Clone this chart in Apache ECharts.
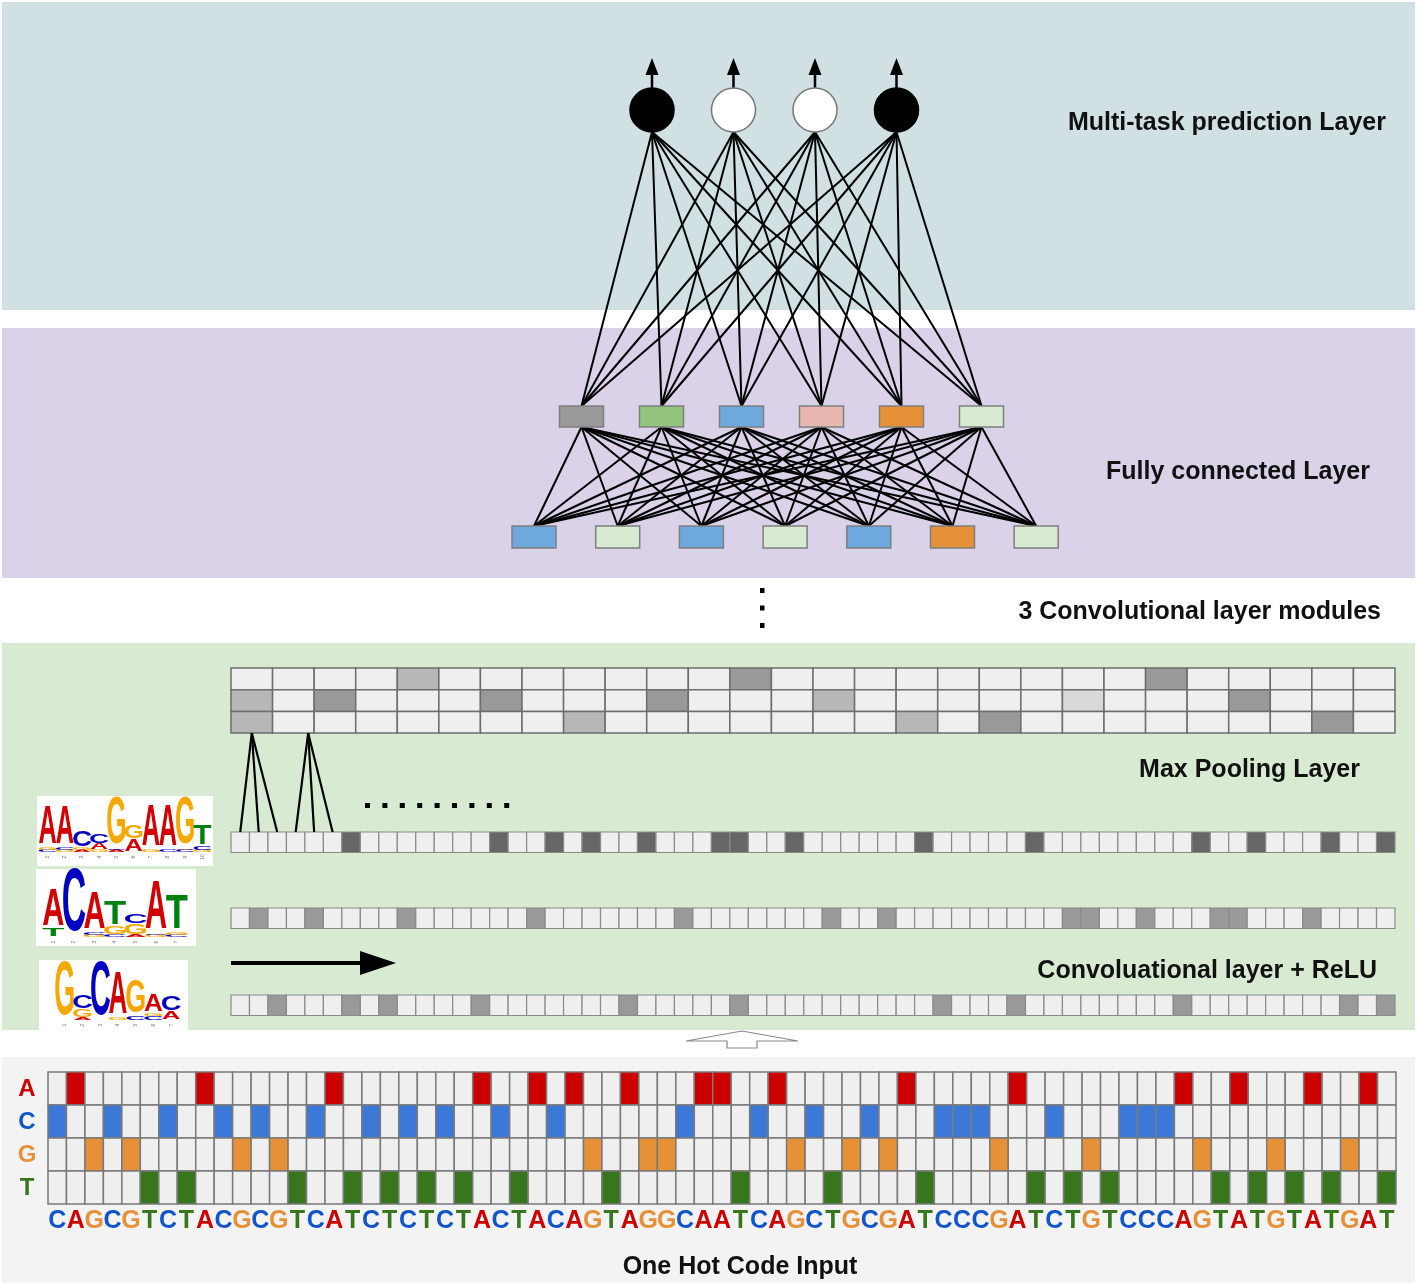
<!DOCTYPE html>
<html><head><meta charset="utf-8">
<script src="https://cdn.jsdelivr.net/npm/echarts@6/dist/echarts.min.js"></script>
<style>html,body{margin:0;padding:0;background:#fff}#c{width:1418px;height:1285px}</style>
</head><body><div id="c"></div>
<script>
// ================= DATA =================
const sequence = "CAGCGTCTACGCGTCATCTCTCTACTACAGTAGGCAATCAGCTGCGATCCCGATCTGTCCCAGTATGTATGAT";
const bases = ['A', 'C', 'G', 'T'];
// max pooling rows: 0 empty, 1 very light, 2 light, 3 dark
const poolRow1 = [0,0,0,0,2,0,0,0,0,0,0,0,3,0,0,0,0,0,0,0,0,0,3,0,0,0,0,0];
const poolRow2 = [2,0,3,0,0,0,3,0,0,0,3,0,0,0,2,0,0,0,0,0,1,0,0,0,3,0,0,0];
const poolRow3 = [2,0,0,0,0,0,0,0,2,0,0,0,0,0,0,0,2,0,3,0,0,0,0,0,0,0,3,0];
// convolution rows: length and active (shaded) cells
const convLength = 63;
const convRow1 = [6,14,17,19,22,26,27,30,37,43,52,55,59,62];
const convRow2 = [1,4,9,16,24,32,35,45,46,49,53,54,58];
const convRow3 = [2,6,8,13,21,27,38,42,51,60,62];
// pooling fan-in: [pool cell, first conv cell, last conv cell]
const poolFans = [[0,0,2],[1,3,5]];
// network nodes
const outputNodes = ['filled','open','open','filled'];
const fcUpper = ['gray','green','blue','pink','orange','pale'];
const fcLower = ['blue','pale','blue','pale','blue','orange','pale'];
// sequence logos (per position: stacked [letter, height] from bottom)
const logo1 = [
  [['C',2],['G',2],['A',39]],
  [['G',2],['C',2],['A',39]],
  [['A',2],['G',2],['C',16]],
  [['G',2],['A',6],['C',9]],
  [['A',2],['C',1],['G',48]],
  [['A',12],['G',13]],
  [['G',2],['A',41]],
  [['C',2],['A',41]],
  [['C',2],['A',1],['G',48]],
  [['G',2],['C',4],['T',20]]
];
const logo2 = [
  [['T',8],['A',37]],
  [['C',64]],
  [['G',2],['C',3],['A',37]],
  [['C',2],['G',8],['T',24]],
  [['A',2],['G',11],['C',9]],
  [['G',2],['C',1],['A',50]],
  [['C',2],['G',3],['T',34]]
];
const logo3 = [
  [['G',55]],
  [['A',2],['G',8],['C',13]],
  [['C',55]],
  [['G',2],['A',42]],
  [['C',4],['G',33]],
  [['C',4],['G',3],['A',17]],
  [['A',8],['C',14]]
];
// text labels
const labelMulti = 'Multi-task prediction Layer';
const labelFC = 'Fully connected Layer';
const labelModules = '3 Convolutional layer modules';
const labelPool = 'Max Pooling Layer';
const labelConv = 'Convoluational layer + ReLU';
const labelInput = 'One Hot Code Input';

// ================= STYLE / LAYOUT =================
const FONT = '"Liberation Sans", Arial, Helvetica, sans-serif';
const baseFill = {A:'#cc0000', C:'#3c78d8', G:'#e69138', T:'#38761d'};
const baseText = {A:'#cc0000', C:'#1155cc', G:'#e69138', T:'#38761d'};
const logoFill = {A:'#d20000', C:'#0000c0', G:'#f7a800', T:'#008010'};
const logoInk = {A:64, C:58, G:62, T:54}; // ink width at 100px bold (slightly reduced so letters fill slot)
const poolFill = ['#efefef','#d9d9d9','#b7b7b7','#999999'];
const nodeFill = {gray:'#999999', green:'#93c47d', blue:'#6fa8dc', pink:'#e6b8af', orange:'#e69138', pale:'#d9ead3'};
const L = {
  bands: [[2,2,1415,310,'#d0e0e3'],[2,328,1415,578,'#d9d2e9'],[2,643,1415,1030,'#d9ead3'],[2,1057,1415,1283,'#f3f3f3']],
  out: {x0:652, dx:81.5, cy:110, r:22},
  fcU: {x0:581.5, dx:80, y0:406, y1:427, w:44},
  fcL: {x0:534, dx:83.7, y0:526, y1:548, w:44},
  pool: {x0:231, x1:1395, y0:668, rh:21.7},
  conv: {x0:231, x1:1395, ys:[832,908,995], h:20.5, fills:['#666666','#999999','#999999']},
  hot: {x0:48, x1:1396, y0:1072, rh:33},
  logos: [
    {box:[37,796,213,866], x0:39, x1:211, base:852},
    {box:[36,869,196,946], x0:43, x1:187, base:937},
    {box:[39,960,188,1030], x0:56, x1:180, base:1020}
  ]
};

// ================= BUILD PRIMITIVES =================
const bg = [], cells = [], wires = [], nodes = [], texts = [];
const R = (x0,y0,x1,y1,fill,stroke,lw)=>({t:'rect',x0,y0,x1,y1,fill,stroke,lw});
const Ln = (a,b,stroke,lw)=>({t:'line',pts:[a,b],stroke,lw});
const T = (x,y,text,font,fill,align,extra)=>Object.assign({t:'text',x,y,text,font,fill,align},extra||{});

L.bands.forEach(b=>bg.push(R(b[0],b[1],b[2],b[3],b[4])));

// one-hot grid
(function(){
  const h=L.hot, n=sequence.length, cw=(h.x1-h.x0)/n;
  bases.forEach((b,r)=>{
    for(let i=0;i<n;i++){
      const on = sequence[i]===b;
      cells.push(R(h.x0+i*cw, h.y0+r*h.rh, h.x0+(i+1)*cw, h.y0+(r+1)*h.rh, on?baseFill[b]:'#efefef', '#7a7a7a', 1.5));
    }
    texts.push(T(27, h.y0+(r+0.5)*h.rh+1, b, 'bold 24px '+FONT, baseText[b], 'center'));
  });
  for(let i=0;i<n;i++){
    texts.push(T(h.x0+(i+0.5)*cw, h.y0+4*h.rh+17, sequence[i], 'bold 25px '+FONT, baseText[sequence[i]], 'center'));
  }
  texts.push(T(740, 1267, labelInput, 'bold 25px '+FONT, '#111', 'center'));
})();

// pooling
(function(){
  const p=L.pool, rows=[poolRow1,poolRow2,poolRow3], cw=(p.x1-p.x0)/rows[0].length;
  rows.forEach((row,r)=>row.forEach((v,i)=>{
    cells.push(R(p.x0+i*cw, p.y0+r*p.rh, p.x0+(i+1)*cw, p.y0+(r+1)*p.rh, poolFill[v], '#6d6d6d', 1.5));
  }));
  texts.push(T(1360, 770, labelPool, 'bold 25px '+FONT, '#111', 'right'));
})();

// conv rows
(function(){
  const c=L.conv, cw=(c.x1-c.x0)/convLength, rows=[convRow1,convRow2,convRow3];
  rows.forEach((act,r)=>{
    for(let i=0;i<convLength;i++){
      const on = act.indexOf(i)>=0;
      cells.push(R(c.x0+i*cw, c.ys[r], c.x0+(i+1)*cw, c.ys[r]+c.h, on?c.fills[r]:'#efefef', '#8a8a8a', 1.2));
    }
  });
  // fan-in lines from pooling to first conv row
  const pw=(L.pool.x1-L.pool.x0)/poolRow1.length, py=L.pool.y0+3*L.pool.rh;
  poolFans.forEach((f,k)=>{
    const midConv = c.x0+((f[1]+f[2])/2+0.5)*cw;
    const ax = k===0 ? L.pool.x0+(f[0]+0.5)*pw : midConv-6;
    for(let i=f[1];i<=f[2];i++) wires.push(Ln([ax,py],[c.x0+(i+0.5)*cw, c.ys[0]], '#000', 2.2));
  });
  // horizontal dots
  for(let i=0;i<9;i++) nodes.push(R(365+i*17.4, 803, 370+i*17.4, 808, '#000'));
  // arrow
  wires.push(Ln([231,963],[362,963],'#000',4));
  nodes.push({t:'poly', pts:[[360,951],[396,963],[360,975]], fill:'#000'});
  texts.push(T(1377, 971, labelConv, 'bold 25px '+FONT, '#111', 'right'));
})();

// logos
L.logos.forEach((lg,k)=>{
  const stacks=[logo1,logo2,logo3][k];
  const b=lg.box;
  cells.push(R(b[0],b[1],b[2],b[3],'#ffffff'));
  const sw=(lg.x1-lg.x0)/stacks.length;
  stacks.forEach((st,i)=>{
    let y=lg.base; const cx=lg.x0+(i+0.5)*sw;
    st.forEach(([ch,h])=>{
      const w=sw-1;
      texts.push(T(cx, y-h/2, ch, 'bold 100px '+FONT, logoFill[ch], 'center', {sx:w/logoInk[ch], sy:h/72}));
      y-=h;
    });
    texts.push(T(cx, lg.base+5, String(i+1), '5px '+FONT, '#777', 'center', {rot:Math.PI/2}));
  });
});

// fully connected layer
(function(){
  const u=L.fcU, l=L.fcL, o=L.out;
  const ux=i=>u.x0+i*u.dx, lx=i=>l.x0+i*l.dx, ox=i=>o.x0+i*o.dx;
  fcUpper.forEach((_,i)=>fcLower.forEach((__,j)=>wires.push(Ln([ux(i),u.y1],[lx(j),l.y0],'#000',2))));
  outputNodes.forEach((_,i)=>fcUpper.forEach((__,j)=>wires.push(Ln([ox(i),o.cy+o.r],[ux(j),u.y0],'#000',2))));
  fcUpper.forEach((k,i)=>nodes.push(R(ux(i)-u.w/2,u.y0,ux(i)+u.w/2,u.y1,nodeFill[k],'#7f7f7f',1.5)));
  fcLower.forEach((k,i)=>nodes.push(R(lx(i)-l.w/2,l.y0,lx(i)+l.w/2,l.y1,nodeFill[k],'#7f7f7f',1.5)));
  outputNodes.forEach((k,i)=>{
    const x=ox(i);
    nodes.push({t:'circle',cx:x,cy:o.cy,r:o.r, fill:k==='filled'?'#000':'#fff', stroke:k==='filled'?'#000':'#777', lw:1.5});
    wires.push(Ln([x,o.cy-o.r],[x,72],'#000',2.5));
    nodes.push({t:'poly', pts:[[x-6.5,75],[x,58],[x+6.5,75]], fill:'#000'});
  });
  // vertical dots
  for(let i=0;i<3;i++) nodes.push(R(760,588+i*17.5,764.5,593+i*17.5,'#000'));
  texts.push(T(1386, 123, labelMulti, 'bold 25px '+FONT, '#111', 'right'));
  texts.push(T(1370, 472, labelFC, 'bold 25px '+FONT, '#111', 'right'));
  texts.push(T(1381, 612, labelModules, 'bold 25px '+FONT, '#111', 'right'));
  // hollow up arrow
  nodes.push({t:'poly', pts:[[742,1031],[798,1041],[757,1041],[757,1048],[727,1048],[727,1041],[686,1041]], fill:'#fff', stroke:'#8a8a8a', lw:1.2});
})();

// ================= RENDER =================
function anchor(p){
  if(p.t==='rect') return [p.x0,p.y0];
  if(p.t==='line'||p.t==='poly') return p.pts[0].slice();
  if(p.t==='circle') return [p.cx,p.cy];
  return [p.x,p.y];
}
function draw(p, api){
  const c=v=>api.coord(v);
  if(p.t==='rect'){
    const a=c([p.x0,p.y0]), b=c([p.x1,p.y1]);
    return {type:'rect', shape:{x:a[0],y:a[1],width:b[0]-a[0],height:b[1]-a[1]},
      style:{fill:p.fill, stroke:p.stroke||'none', lineWidth:p.lw||0}};
  }
  if(p.t==='line'){
    const a=c(p.pts[0]), b=c(p.pts[1]);
    return {type:'line', shape:{x1:a[0],y1:a[1],x2:b[0],y2:b[1]}, style:{stroke:p.stroke, lineWidth:p.lw}};
  }
  if(p.t==='poly'){
    return {type:'polygon', shape:{points:p.pts.map(c)}, style:{fill:p.fill, stroke:p.stroke||'none', lineWidth:p.lw||0}};
  }
  if(p.t==='circle'){
    const a=c([p.cx,p.cy]);
    return {type:'circle', shape:{cx:a[0],cy:a[1],r:p.r}, style:{fill:p.fill, stroke:p.stroke||'none', lineWidth:p.lw||0}};
  }
  const a=c([p.x,p.y]);
  return {type:'text', x:a[0], y:a[1], scaleX:p.sx||1, scaleY:p.sy||1, rotation:p.rot||0,
    style:{text:p.text, x:0, y:0, font:p.font, fill:p.fill, align:p.align||'center', verticalAlign:'middle'}};
}
function series(name, list, z){
  return {type:'custom', name, coordinateSystem:'cartesian2d', clip:false, silent:true, animation:false, z,
    data:list.map(anchor), renderItem:(params,api)=>draw(list[params.dataIndex],api)};
}
const chart = echarts.init(document.getElementById('c'), null, {renderer:'canvas'});
chart.setOption({
  animation:false,
  backgroundColor:'#ffffff',
  grid:{left:0,right:0,top:0,bottom:0},
  xAxis:{type:'value',min:0,max:1418,show:false},
  yAxis:{type:'value',min:0,max:1285,inverse:true,show:false},
  series:[series('bands',bg,1),series('cells',cells,2),series('wires',wires,3),series('nodes',nodes,4),series('texts',texts,5)]
});
</script></body></html>
